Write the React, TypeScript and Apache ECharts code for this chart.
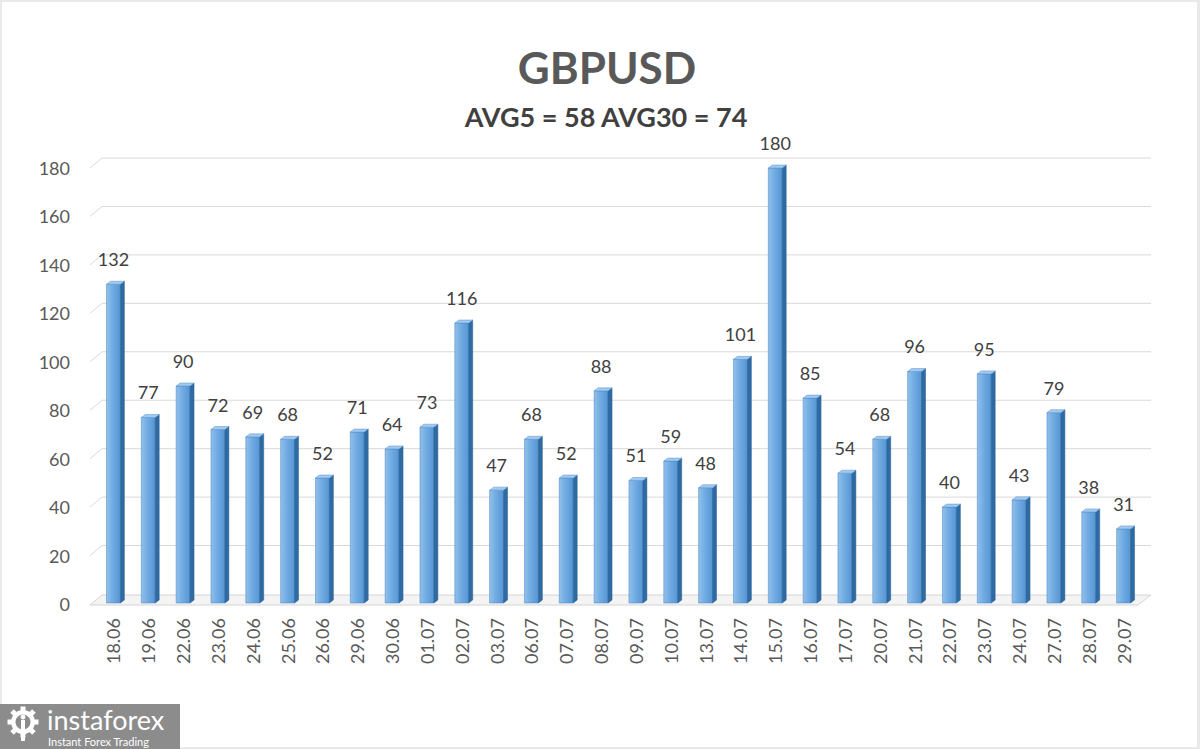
import React, { useEffect, useRef } from "react";
import * as echarts from "echarts";

const categories = [
  "18.06", "19.06", "22.06", "23.06", "24.06", "25.06", "26.06", "29.06", "30.06", "01.07",
  "02.07", "03.07", "06.07", "07.07", "08.07", "09.07", "10.07", "13.07", "14.07", "15.07",
  "16.07", "17.07", "20.07", "21.07", "22.07", "23.07", "24.07", "27.07", "28.07", "29.07",
];
const values = [
  132, 77, 90, 72, 69, 68, 52, 71, 64, 73,
  116, 47, 68, 52, 88, 51, 59, 48, 101, 180,
  85, 54, 68, 96, 40, 95, 43, 79, 38, 31,
];
const yTicks = [0, 20, 40, 60, 80, 100, 120, 140, 160, 180];
const titleText = "GBPUSD";
const subtitleText = "AVG5 = 58 AVG30 = 74";

const FONT = "Lato, 'Open Sans', sans-serif";

export default function App() {
  const ref = useRef<HTMLDivElement>(null);

  useEffect(() => {
    document.body.style.margin = "0";
    if (!ref.current) return;
    const chart = echarts.init(ref.current, undefined, { renderer: "svg" });

    const DY = 10;

    const gridRender = (params: any, api: any) => {
      const cs = params.coordSys;
      const v = api.value(1);
      const y = api.coord([0, v])[1];
      const x0 = cs.x;
      const x1 = cs.x + cs.width;
      if (v === 0) {
        return {
          type: "polygon",
          shape: {
            points: [
              [x0 - 6, y + 1],
              [x1 - 3, y + 1],
              [x1 + 10, y - DY + 1],
              [x0 + 6, y - DY + 1],
            ],
          },
          style: { fill: "#f4f4f4", stroke: "#d4d4d4", lineWidth: 1 },
        };
      }
      return {
        type: "polyline",
        shape: {
          points: [
            [x0 - 6, y],
            [x0 + 6, y - DY],
            [x1 + 10, y - DY],
          ],
        },
        style: { stroke: "#d9d9d9", lineWidth: 1, fill: "none" },
      };
    };

    const barRender = (params: any, api: any) => {
      const i = api.value(0);
      const v = api.value(1);
      const [cx, ty] = api.coord([i, v]);
      const by = api.coord([i, 0])[1] - 1;
      const w = api.size([1, 0])[0] * 0.4;
      const l = cx - w / 2;
      const r = cx + w / 2;
      const d = 4;
      const dd = 3;
      return {
        type: "group",
        children: [
          {
            type: "rect",
            shape: { x: l, y: ty, width: w, height: by - ty },
            style: {
              fill: new echarts.graphic.LinearGradient(0, 0, 1, 0, [
                { offset: 0, color: "#92c0ea" },
                { offset: 0.45, color: "#70abe2" },
                { offset: 1, color: "#5795d3" },
              ]),
              stroke: "#4485c4",
              lineWidth: 0.5,
            },
          },
          {
            type: "polygon",
            shape: {
              points: [
                [r, ty],
                [r + d, ty - dd],
                [r + d, by - dd],
                [r, by],
              ],
            },
            style: { fill: "#2f6ba3", stroke: "#285f92", lineWidth: 0.5 },
          },
          {
            type: "polygon",
            shape: {
              points: [
                [l, ty],
                [l + d, ty - dd],
                [r + d, ty - dd],
                [r, ty],
              ],
            },
            style: { fill: "#a2caef", stroke: "#5591cf", lineWidth: 0.5 },
          },
          {
            type: "text",
            style: {
              text: String(v),
              x: cx,
              y: ty - 25,
              align: "center",
              verticalAlign: "middle",
              font: `18px ${FONT}`,
              fill: "#404040",
            },
          },
        ],
      };
    };

    const option: any = {
      animation: false,
      backgroundColor: "#ffffff",
      grid: { left: 96, right: 59, top: 168, bottom: 145, containLabel: false },
      xAxis: {
        type: "category",
        data: categories,
        boundaryGap: true,
        axisLine: { show: false },
        axisTick: { show: false },
        axisLabel: {
          rotate: 90,
          fontSize: 18,
          fontFamily: FONT,
          color: "#595959",
          margin: 14,
          padding: [0, 0, 12, 0],
          interval: 0,
        },
      },
      yAxis: {
        type: "value",
        min: 0,
        max: 180,
        interval: 20,
        axisLine: { show: false },
        axisTick: { show: false },
        splitLine: { show: false },
        axisLabel: {
          fontSize: 18,
          fontFamily: FONT,
          color: "#595959",
          margin: 26,
        },
      },
      graphic: [
        {
          type: "rect",
          z: -10,
          shape: { x: 0, y: 0, width: 1200, height: 749 },
          style: { fill: "#e9e9e9" },
          silent: true,
        },
        {
          type: "rect",
          z: -9,
          shape: { x: 2, y: 2, width: 1195, height: 745 },
          style: { fill: "#ffffff" },
          silent: true,
        },
        {
          type: "text",
          style: {
            text: titleText,
            x: 607,
            y: 67,
            align: "center",
            verticalAlign: "middle",
            font: `bold 44px ${FONT}`,
            fill: "#595959",
          },
        },
        {
          type: "text",
          style: {
            text: subtitleText,
            x: 606,
            y: 116,
            align: "center",
            verticalAlign: "middle",
            font: `bold 27px ${FONT}`,
            fill: "#404040",
          },
        },
        {
          type: "group",
          children: [
            {
              type: "rect",
              shape: { x: 0, y: 704, width: 180, height: 45 },
              style: { fill: "#8c8c8c" },
            },
            {
              type: "ring",
              shape: { cx: 23, cy: 722, r: 12, r0: 7.5 },
              style: { fill: "#ffffff" },
            },
            ...[0, 45, 90, 135, 180, 225, 270, 315].map((deg) => {
              const a = (deg * Math.PI) / 180;
              return {
                type: "rect",
                x: 23 + Math.cos(a) * 13,
                y: 722 + Math.sin(a) * 13,
                rotation: -a,
                shape: { x: -2.5, y: -2.5, width: 5, height: 5 },
                style: { fill: "#ffffff" },
              };
            }),
            {
              type: "circle",
              shape: { cx: 23, cy: 717, r: 2.5 },
              style: { fill: "#ffffff" },
            },
            {
              type: "rect",
              shape: { x: 21, y: 720, width: 4, height: 21 },
              style: { fill: "#ffffff" },
            },
            {
              type: "text",
              style: {
                text: "instaforex",
                x: 47,
                y: 719,
                align: "left",
                verticalAlign: "middle",
                font: `27px ${FONT}`,
                fill: "#ffffff",
              },
            },
            {
              type: "text",
              style: {
                text: "Instant Forex Trading",
                x: 48,
                y: 741,
                align: "left",
                verticalAlign: "middle",
                font: `11px ${FONT}`,
                fill: "#ffffff",
              },
            },
          ],
        },
      ],
      series: [
        {
          type: "custom",
          name: "grid",
          renderItem: gridRender,
          data: yTicks.map((v) => [0, v]),
          encode: { x: 0, y: 1 },
          clip: false,
          silent: true,
          z: 1,
        },
        {
          type: "custom",
          name: "GBPUSD",
          renderItem: barRender,
          data: values.map((v, i) => [i, v]),
          encode: { x: 0, y: 1 },
          clip: false,
          z: 2,
        },
      ],
    };

    chart.setOption(option);
    return () => chart.dispose();
  }, []);

  return <div ref={ref} style={{ width: 1200, height: 749 }} />;
}
